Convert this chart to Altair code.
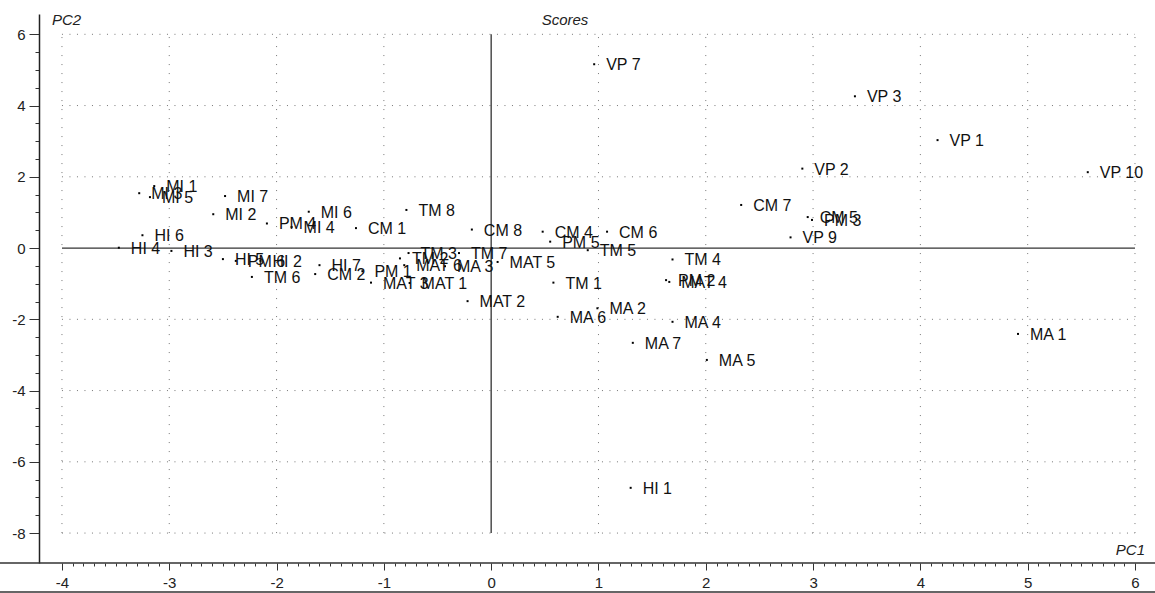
import altair as alt
import pandas as pd

# ---- data ----
labels = ["VP 7", "VP 3", "VP 1", "VP 2", "VP 10", "CM 7", "CM 5", "PM 3", "VP 9",
          "MA 1", "HI 1", "MA 5", "MA 7", "MA 4", "MA 2", "MA 6", "TM 1", "PM 2",
          "MAT 4", "TM 4", "MAT 2", "MAT 5", "TM 7", "MA 3", "MAT 6", "MAT 1",
          "MAT 3", "TM 2", "TM 3", "PM 1", "CM 2", "HI 7", "TM 6", "HI 5", "PM 6",
          "HI 2", "HI 3", "HI 4", "HI 6", "MI 2", "MI 7", "MI 1", "MI 3", "MI 5",
          "PM 4", "MI 4", "MI 6", "CM 1", "TM 8", "CM 8", "CM 4", "PM 5", "CM 6",
          "TM 5"]
pc1 = [0.96, 3.39, 4.16, 2.90, 5.56, 2.33, 2.95, 2.99, 2.79,
       4.91, 1.30, 2.01, 1.32, 1.69, 0.99, 0.62, 0.58, 1.63,
       1.66, 1.69, -0.22, 0.06, -0.30, -0.43, -0.81, -0.76,
       -1.12, -0.85, -0.77, -1.20, -1.64, -1.60, -2.23, -2.50, -2.38,
       -2.15, -2.98, -3.47, -3.25, -2.59, -2.48, -3.14, -3.28, -3.18,
       -2.09, -1.86, -1.70, -1.26, -0.79, -0.18, 0.48, 0.55, 1.08,
       0.90]
pc2 = [5.16, 4.26, 3.03, 2.23, 2.13, 1.21, 0.87, 0.79, 0.30,
       -2.41, -6.73, -3.14, -2.66, -2.07, -1.69, -1.93, -0.97, -0.90,
       -0.95, -0.32, -1.49, -0.39, -0.14, -0.51, -0.48, -0.98,
       -0.97, -0.29, -0.14, -0.65, -0.73, -0.48, -0.81, -0.31, -0.36,
       -0.36, -0.08, 0.01, 0.36, 0.95, 1.46, 1.74, 1.54, 1.43,
       0.69, 0.59, 1.02, 0.56, 1.07, 0.52, 0.46, 0.18, 0.46,
       -0.06]

x_ticks = [i / 10 for i in range(-40, 61)]          # -4 .. 6, minor every 0.1
y_ticks = [i / 2 for i in range(-16, 13)]           # -8 .. 6, minor every 0.5
grid_x = [-4, -3, -2, -1, 0, 1, 2, 3, 4, 5, 6]
grid_y = [-8, -6, -4, -2, 0, 2, 4, 6]

X_DOMAIN = [-4.214, 6.14]
Y_DOMAIN = [-8.84, 6.57]
FONT = "Liberation Sans"

W, H = 1111, 549

pts = pd.DataFrame({"label": labels, "PC1": pc1, "PC2": pc2})
xs = alt.Scale(domain=X_DOMAIN, nice=False, zero=False)
ys = alt.Scale(domain=Y_DOMAIN, nice=False, zero=False)

x_axis = alt.Axis(
    values=x_ticks, title=None, grid=False, domain=False,
    tickColor="#333333", tickWidth=1,
    tickSize={"condition": {"test": "datum.value % 1 === 0", "value": 7}, "value": 3},
    labelExpr="datum.value % 1 === 0 ? toString(datum.value) : ''",
    labelOverlap=False, labelFont=FONT, labelFontSize=15, labelColor="#222222",
    labelPadding=5,
)
y_axis = alt.Axis(
    values=y_ticks, title=None, grid=False, domain=True,
    domainColor="#222222", domainWidth=1.5,
    tickColor="#333333", tickWidth=1,
    tickSize={"condition": {"test": "datum.value % 2 === 0", "value": 10}, "value": 4},
    labelExpr="datum.value % 2 === 0 ? toString(datum.value) : ''",
    labelOverlap=False, labelFont=FONT, labelFontSize=15, labelColor="#222222",
    labelPadding=4,
)

# dotted grid, limited to the tick range
gx = pd.DataFrame({"x": grid_x, "y0": [min(grid_y)] * len(grid_x), "y1": [max(grid_y)] * len(grid_x)})
gy = pd.DataFrame({"y": grid_y, "x0": [min(grid_x)] * len(grid_y), "x1": [max(grid_x)] * len(grid_y)})
gx_nz = gx[gx["x"] != 0]
gy_nz = gy[gy["y"] != 0]

X = lambda f: alt.X(f, scale=xs, axis=x_axis)
Y = lambda f: alt.Y(f, scale=ys, axis=y_axis)

vgrid = alt.Chart(gx_nz).mark_rule(color="#777777", strokeWidth=1, strokeDash=[1, 8]).encode(
    x=X("x:Q"), y=Y("y0:Q"), y2="y1:Q")
hgrid = alt.Chart(gy_nz).mark_rule(color="#777777", strokeWidth=1, strokeDash=[1, 6.5]).encode(
    y=Y("y:Q"), x=X("x0:Q"), x2="x1:Q")

vzero = alt.Chart(gx[gx["x"] == 0]).mark_rule(color="#333333", strokeWidth=1.3).encode(
    x=X("x:Q"), y=Y("y0:Q"), y2="y1:Q")
hzero = alt.Chart(gy[gy["y"] == 0]).mark_rule(color="#333333", strokeWidth=1.3).encode(
    y=Y("y:Q"), x=X("x0:Q"), x2="x1:Q")

points = alt.Chart(pts).mark_square(size=4, color="black", opacity=1).encode(
    x=X("PC1:Q"), y=Y("PC2:Q"))

texts = alt.Chart(pts).mark_text(align="left", baseline="middle", dx=12, dy=1,
                                 font=FONT, fontSize=16, color="#111111").encode(
    x=X("PC1:Q"), y=Y("PC2:Q"), text="label:N")

one = pd.DataFrame({"a": [0]})
xline = alt.Chart(one).mark_rule(color="#333333", strokeWidth=1.5).encode(
    x=alt.value(-39), x2=alt.value(W + 5), y=alt.value(H))
bline = alt.Chart(one).mark_rule(color="#333333", strokeWidth=1.5).encode(
    x=alt.value(-39), x2=alt.value(W + 5), y=alt.value(H + 29))

t_scores = alt.Chart(one).mark_text(text="Scores", font=FONT, fontSize=15, fontStyle="italic",
                                    align="center", baseline="middle", color="#222222").encode(
    x=alt.value(526), y=alt.value(6))
t_pc2 = alt.Chart(one).mark_text(text="PC2", font=FONT, fontSize=15, fontStyle="italic",
                                 align="left", baseline="middle", color="#222222").encode(
    x=alt.value(13), y=alt.value(6))
t_pc1 = alt.Chart(one).mark_text(text="PC1", font=FONT, fontSize=15, fontStyle="italic",
                                 align="right", baseline="middle", color="#222222").encode(
    x=alt.value(1106), y=alt.value(536))

chart = alt.layer(
    vgrid, hgrid, vzero, hzero, points, texts, xline, bline, t_scores, t_pc2, t_pc1
).properties(
    width=W, height=H,
    autosize=alt.AutoSizeParams(type="none"),
    padding={"left": 39, "top": 14, "right": 5, "bottom": 30},
).configure(background="white").configure_view(stroke=None)

chart.save("out.html", embed_options={"renderer": "svg", "actions": False})
